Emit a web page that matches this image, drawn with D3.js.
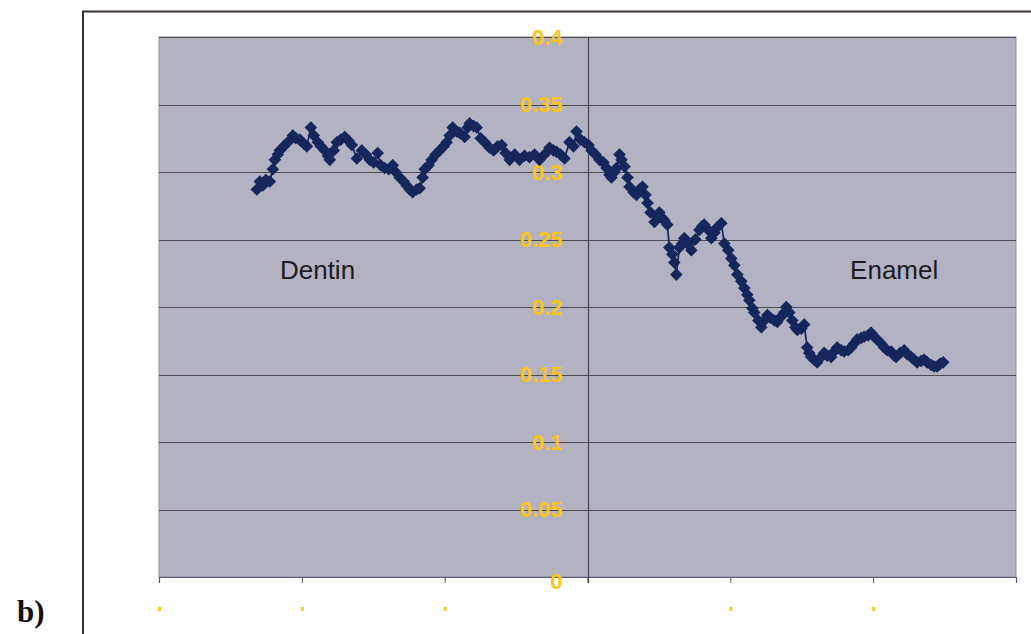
<!DOCTYPE html>
<html><head><meta charset="utf-8">
<script src="https://cdn.jsdelivr.net/npm/d3@7"></script>
<style>body{margin:0;background:#fff}svg{display:block}</style>
</head><body>
<svg id="c" width="1031" height="634"></svg>
<script>
const xValues = [-2.315,-2.294,-2.273,-2.252,-2.224,-2.203,-2.189,-2.168,-2.154,-2.126,-2.098,-2.063,-2.042,-2.014,-1.986,-1.965,-1.937,-1.916,-1.888,-1.867,-1.839,-1.818,-1.804,-1.776,-1.755,-1.727,-1.699,-1.671,-1.650,-1.615,-1.580,-1.552,-1.524,-1.497,-1.469,-1.448,-1.420,-1.392,-1.364,-1.343,-1.315,-1.287,-1.266,-1.245,-1.224,-1.196,-1.175,-1.154,-1.140,-1.112,-1.091,-1.063,-1.035,-1.007,-0.986,-0.965,-0.944,-0.916,-0.895,-0.860,-0.839,-0.825,-0.797,-0.776,-0.748,-0.720,-0.685,-0.657,-0.629,-0.601,-0.573,-0.545,-0.510,-0.476,-0.441,-0.406,-0.371,-0.336,-0.301,-0.266,-0.238,-0.217,-0.189,-0.161,-0.126,-0.098,-0.077,-0.049,-0.021,0.007,0.028,0.056,0.084,0.112,0.133,0.154,0.168,0.189,0.203,0.224,0.238,0.259,0.280,0.294,0.322,0.343,0.364,0.385,0.406,0.420,0.441,0.469,0.490,0.503,0.524,0.538,0.559,0.573,0.594,0.608,0.622,0.643,0.664,0.678,0.699,0.727,0.755,0.783,0.804,0.818,0.846,0.867,0.888,0.909,0.937,0.958,0.986,1.007,1.028,1.049,1.077,1.098,1.119,1.133,1.154,1.168,1.196,1.217,1.238,1.259,1.280,1.308,1.329,1.357,1.378,1.392,1.413,1.434,1.455,1.469,1.497,1.517,1.538,1.552,1.566,1.587,1.608,1.636,1.657,1.678,1.706,1.727,1.748,1.776,1.797,1.825,1.846,1.867,1.888,1.916,1.937,1.965,1.986,2.007,2.028,2.056,2.077,2.098,2.126,2.147,2.161,2.189,2.217,2.238,2.266,2.287,2.308,2.336,2.357,2.378,2.406,2.427,2.448,2.469,2.490];
const yValues = [0.287,0.293,0.290,0.294,0.293,0.302,0.309,0.313,0.316,0.319,0.322,0.327,0.325,0.324,0.321,0.319,0.333,0.327,0.322,0.319,0.316,0.312,0.309,0.316,0.322,0.324,0.326,0.323,0.320,0.310,0.316,0.313,0.309,0.307,0.314,0.305,0.303,0.302,0.305,0.300,0.296,0.293,0.290,0.287,0.285,0.287,0.288,0.296,0.302,0.305,0.309,0.313,0.316,0.319,0.322,0.327,0.333,0.330,0.329,0.326,0.333,0.336,0.334,0.333,0.325,0.322,0.318,0.316,0.319,0.320,0.314,0.309,0.313,0.309,0.312,0.311,0.313,0.309,0.313,0.318,0.316,0.315,0.313,0.310,0.322,0.319,0.330,0.324,0.322,0.320,0.316,0.313,0.309,0.307,0.303,0.298,0.296,0.300,0.303,0.313,0.309,0.304,0.296,0.289,0.285,0.283,0.287,0.289,0.283,0.277,0.270,0.263,0.267,0.270,0.266,0.264,0.261,0.244,0.239,0.233,0.224,0.244,0.247,0.251,0.247,0.242,0.250,0.257,0.260,0.261,0.257,0.251,0.255,0.259,0.262,0.247,0.242,0.236,0.231,0.224,0.219,0.214,0.209,0.205,0.199,0.196,0.190,0.185,0.190,0.194,0.192,0.190,0.189,0.193,0.196,0.200,0.196,0.190,0.185,0.183,0.184,0.187,0.170,0.166,0.163,0.161,0.159,0.163,0.166,0.164,0.163,0.167,0.170,0.168,0.167,0.168,0.170,0.173,0.176,0.177,0.178,0.179,0.181,0.178,0.176,0.173,0.170,0.168,0.167,0.164,0.163,0.166,0.168,0.165,0.163,0.161,0.159,0.160,0.161,0.159,0.157,0.156,0.156,0.158,0.159];
const yTicks = [0,0.05,0.1,0.15,0.2,0.25,0.3,0.35,0.4];
const yTickLabels = ["0","0.05","0.1","0.15","0.2","0.25","0.3","0.35","0.4"];
const xTicks = [-3,-2,-1,0,1,2,3];
const xFadedLabelTicks = [-3,-2,-1,1,2];
const regionLabels = ["Dentin","Enamel"];
const regionLabelX = [-1.89,2.147];
const regionLabelY = [0.221,0.221];

const svg = d3.select("#c");
const L = 159, R = 1016, T = 37, B = 577;
const x = d3.scaleLinear().domain([-3,3]).range([L,R]);
const y = d3.scaleLinear().domain([0,0.4]).range([B,T]);

// outer frame
svg.append("path").attr("d","M83,634 L83,11.5 L1031,11.5").attr("fill","none").attr("stroke","#3a3030").attr("stroke-width",2);
// plot bg
svg.append("rect").attr("x",L).attr("y",T).attr("width",R-L).attr("height",B-T).attr("fill","#b3b2c2").attr("stroke","#8f8d9c").attr("stroke-width",1);
// grid
svg.append("g").selectAll("line").data(yTicks.slice(1)).join("line")
  .attr("x1",L).attr("x2",R).attr("y1",d=>Math.round(y(d))+0.5).attr("y2",d=>Math.round(y(d))+0.5)
  .attr("stroke","#4f4a50").attr("stroke-width",1.2);
// x axis
const xa = svg.append("g").attr("transform",`translate(0,${B})`)
  .call(d3.axisBottom(x).tickValues(xTicks).tickSize(6).tickFormat(""));
xa.select(".domain").attr("stroke","#555a70").attr("stroke-width",1.2);
xa.selectAll(".tick line").attr("stroke","#555");
// y axis at x=0
const ya = svg.append("g").attr("transform",`translate(${Math.round(x(0))+0.5},0)`)
  .call(d3.axisLeft(y).tickValues(yTicks).tickSize(0).tickFormat((d,i)=>yTickLabels[i]));
ya.select(".domain").attr("stroke","#4a4448").attr("stroke-width",1.2).attr("d",`M0,${T}V${B+6}`);
ya.selectAll(".tick text").attr("x",-26).attr("fill","#fdc512")
  .style("font-family","Liberation Sans, Arial, sans-serif").style("font-size","22px").style("font-weight","bold");
ya.selectAll(".tick").filter(d=>d===0).select("text").attr("dy","0.5em");

// faded x labels
svg.append("g").selectAll("rect").data(xFadedLabelTicks).join("rect")
  .attr("x",d=>x(d)-1).attr("y",607).attr("width",3).attr("height",4).attr("fill","#f2d21a");

// line + markers
const pts = xValues.map((v,i)=>[v,yValues[i]]);
svg.append("path").datum(pts).attr("fill","none").attr("stroke","#1a2a5e").attr("stroke-width",1.8)
  .attr("d",d3.line().x(d=>x(d[0])).y(d=>y(d[1])));
const sym = d3.symbol().type(d3.symbolDiamond2).size(70);
svg.append("g").selectAll("path").data(pts).join("path")
  .attr("transform",d=>`translate(${x(d[0])},${y(d[1])})`)
  .attr("d",sym).attr("fill","#15275c").attr("stroke","#15275c").attr("stroke-width",1.5);

// region labels
svg.append("g").selectAll("text").data(regionLabels).join("text")
  .attr("x",(d,i)=>x(regionLabelX[i])).attr("y",(d,i)=>y(regionLabelY[i]))
  .attr("text-anchor","middle").attr("fill","#1c1c1c")
  .style("font-family","Liberation Sans, Arial, sans-serif").style("font-size","26px").text(d=>d);

// panel label
svg.append("text").attr("x",17).attr("y",622).attr("fill","#111")
  .style("font-family","Liberation Serif, serif").style("font-size","31px").style("font-weight","bold").text("b)");
</script>
</body></html>
